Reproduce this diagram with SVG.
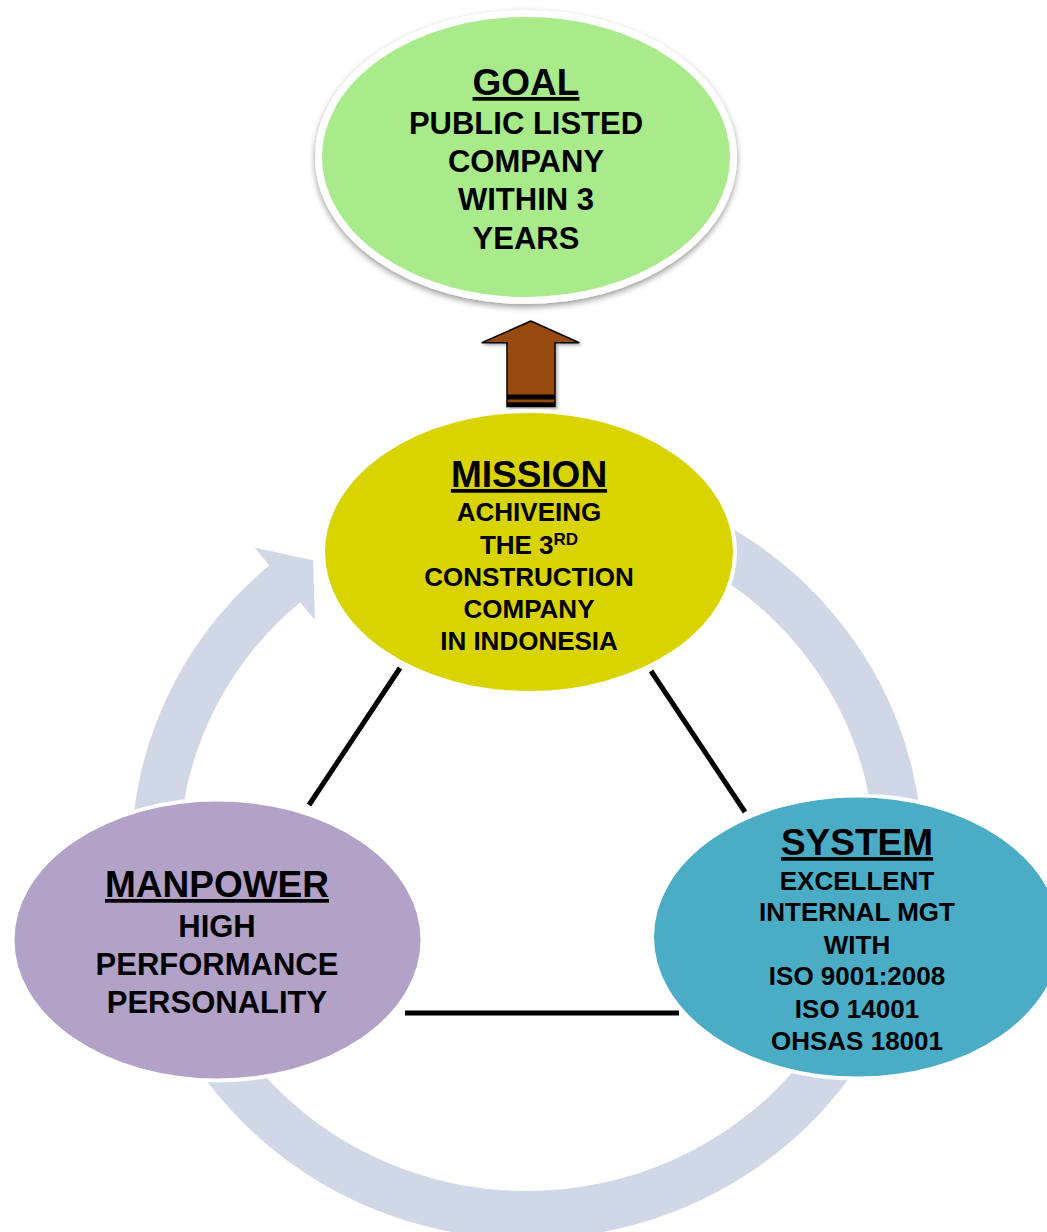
<svg xmlns="http://www.w3.org/2000/svg" width="1047" height="1232" viewBox="0 0 1047 1232">
<defs>
<filter id="shadow" x="-10%" y="-10%" width="120%" height="125%">
<feDropShadow dx="0" dy="3" stdDeviation="3" flood-color="#000" flood-opacity="0.4"/>
</filter>
<filter id="ashadow" x="-20%" y="-20%" width="150%" height="150%">
<feDropShadow dx="2" dy="2" stdDeviation="1.5" flood-color="#000" flood-opacity="0.3"/>
</filter>
</defs>
<style>
text{font-family:"Liberation Sans",Arial,Helvetica,sans-serif;font-weight:bold;fill:#000;text-anchor:middle}
.title{font-size:37px;text-decoration:underline}
.b31{font-size:31px}
.b26{font-size:26px}
.link{stroke:#000;stroke-width:5;fill:none}
.node{stroke:#fff;stroke-width:4}
</style>
<g id="cycle">
<path d="M 701.4 539 A 371.5 359 0 1 1 289.7 579.8" fill="none" stroke="#d0d8e8" stroke-width="48"/>
<polygon points="254.7,547.7 313.2,560.2 314.8,620" fill="#d0d8e8"/>
</g>
<g id="connectors">
<line class="link" x1="400" y1="668" x2="309" y2="805"/>
<line class="link" x1="651" y1="671" x2="745" y2="812"/>
<line class="link" x1="405" y1="1013" x2="679" y2="1013"/>
<g id="up-arrow" filter="url(#ashadow)">
<polygon points="531,321 481.7,342.7 507,342.7 507,406.5 555,406.5 555,342.7 579.3,342.7" fill="#984807" stroke="#000" stroke-width="1.5" stroke-linejoin="miter"/>
<rect x="507" y="394.5" width="48" height="5" fill="#000"/>
<rect x="507" y="402.3" width="48" height="4.5" fill="#000"/>
</g>
</g>
<g id="goal">
<ellipse cx="526" cy="157" rx="207.5" ry="143.5" fill="#a9ea8a" stroke="#fff" stroke-width="7" filter="url(#shadow)"/>
<text class="title" x="526" y="95">GOAL</text>
<text class="b31" x="526" y="133.5">PUBLIC LISTED</text>
<text class="b31" x="526" y="172">COMPANY</text>
<text class="b31" x="526" y="210">WITHIN 3</text>
<text class="b31" x="526" y="248.5">YEARS</text>
</g>
<g id="mission">
<ellipse class="node" cx="529" cy="552" rx="206" ry="141" fill="#d9d300"/>
<text class="title" x="529" y="487">MISSION</text>
<text class="b26" x="529" y="521">ACHIVEING</text>
<text class="b26" x="529" y="553.5">THE 3<tspan font-size="17" dy="-9">RD</tspan></text>
<text class="b26" x="529" y="586">CONSTRUCTION</text>
<text class="b26" x="529" y="617.5">COMPANY</text>
<text class="b26" x="529" y="650">IN INDONESIA</text>
</g>
<g id="manpower">
<ellipse class="node" cx="217.5" cy="940" rx="205" ry="140.5" fill="#b2a2c7"/>
<text class="title" x="217" y="897">MANPOWER</text>
<text class="b31" x="217" y="937">HIGH</text>
<text class="b31" x="217" y="975">PERFORMANCE</text>
<text class="b31" x="217" y="1013">PERSONALITY</text>
</g>
<g id="system">
<ellipse class="node" cx="857" cy="937" rx="205" ry="141.5" fill="#4bacc6"/>
<text class="title" x="857" y="855">SYSTEM</text>
<text class="b26" x="857" y="889.5">EXCELLENT</text>
<text class="b26" x="857" y="921">INTERNAL MGT</text>
<text class="b26" x="857" y="953.5">WITH</text>
<text class="b26" x="857" y="985">ISO 9001:2008</text>
<text class="b26" x="857" y="1017.5">ISO 14001</text>
<text class="b26" x="857" y="1049.5">OHSAS 18001</text>
</g>
</svg>
